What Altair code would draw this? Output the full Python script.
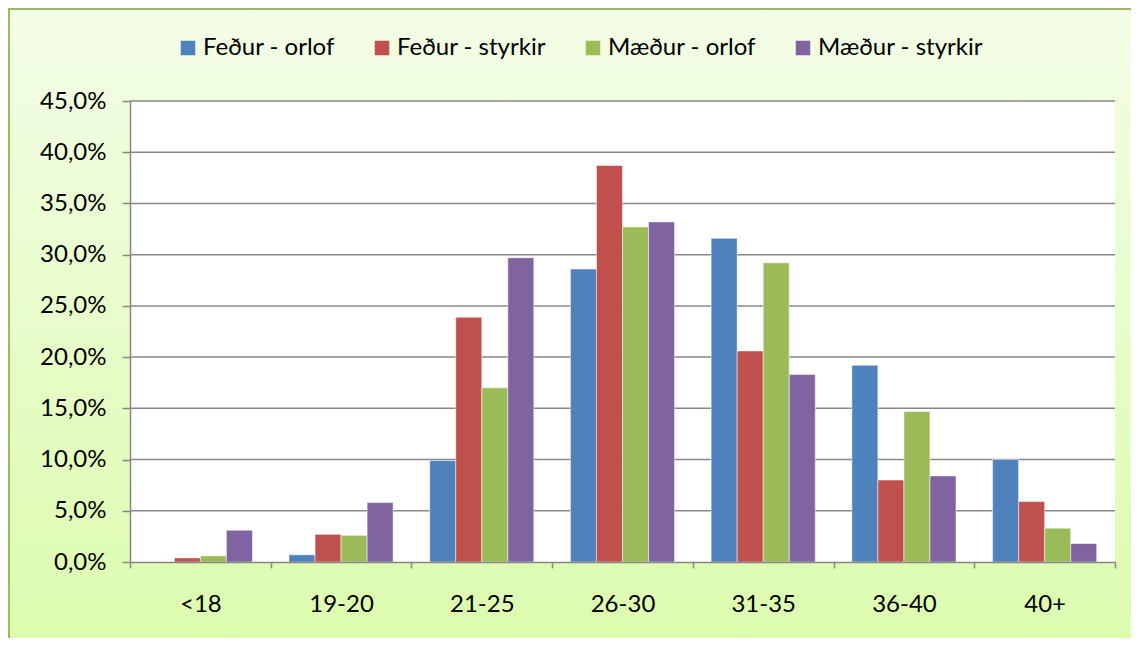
import altair as alt
import pandas as pd

categories = ["<18", "19-20", "21-25", "26-30", "31-35", "36-40", "40+"]
series = ["Feður - orlof", "Feður - styrkir", "Mæður - orlof", "Mæður - styrkir"]
fedur_orlof = [0.0, 0.7, 9.9, 28.6, 31.6, 19.2, 10.0]
fedur_styrkir = [0.4, 2.7, 23.9, 38.7, 20.6, 8.0, 5.9]
maedur_orlof = [0.6, 2.6, 17.0, 32.7, 29.2, 14.7, 3.3]
maedur_styrkir = [3.1, 5.8, 29.7, 33.2, 18.3, 8.4, 1.8]
y_ticks = [0, 5, 10, 15, 20, 25, 30, 35, 40, 45]
colors = ["#4f81bd", "#c0504d", "#9bbb59", "#8064a2"]

W, H = 985, 461
PL, PT, PR, PB = 122, 93, 16, 76
FONT = "Lato"

rows = []
for s, vals in zip(series, [fedur_orlof, fedur_styrkir, maedur_orlof, maedur_styrkir]):
    for c, v in zip(categories, vals):
        rows.append({"cat": c, "series": s, "val": v})
df = pd.DataFrame(rows)
grid_df = pd.DataFrame({"v": y_ticks[1:]})
one = pd.DataFrame({"a": [0]})

yscale = alt.Scale(domain=[0, 45], nice=False)
yaxis = alt.Axis(title=None, values=y_ticks, grid=False,
                 labelExpr="replace(format(datum.value, '.1f'), '.', ',') + '%'",
                 tickSize=8, tickWidth=1.5, tickColor="#868686",
                 domainColor="#868686", domainWidth=1.5,
                 labelFont=FONT, labelFontSize=24, labelColor="black",
                 labelPadding=16, zindex=1)

bg = alt.Chart(one).mark_rect(
    fill={"gradient": "linear", "x1": 0, "y1": 0, "x2": 0, "y2": 1,
          "stops": [{"offset": 0, "color": "#f3fde7"}, {"offset": 1, "color": "#dbfcab"}]},
    stroke="#9bbb59", strokeWidth=2
).encode(x=alt.value(-PL + 1), x2=alt.value(W + PR + 30),
         y=alt.value(-PT + 1), y2=alt.value(H + PB + 30))

plotbg = alt.Chart(one).mark_rect(fill="white").encode(
    x=alt.value(0), x2=alt.value(W), y=alt.value(0), y2=alt.value(H))

grid = alt.Chart(grid_df).mark_rule(color="#878787", strokeWidth=1.5).encode(
    y=alt.Y("v:Q", scale=yscale, axis=yaxis))

bars = alt.Chart(df).mark_bar(stroke="white", strokeOpacity=0.5, strokeWidth=1).encode(
    x=alt.X("cat:N", sort=categories,
            scale=alt.Scale(paddingInner=0, paddingOuter=0),
            axis=alt.Axis(title=None, labelAngle=0, tickBand="extent", tickSize=6,
                          tickWidth=1.5, tickColor="#868686", domainColor="#868686",
                          domainWidth=1.5, labelFont=FONT, labelFontSize=24,
                          labelColor="black", labelPadding=24, zindex=1)),
    xOffset=alt.XOffset("series:N", sort=series,
                        scale=alt.Scale(paddingInner=0, paddingOuter=0.703)),
    y=alt.Y("val:Q", scale=yscale, axis=yaxis),
    color=alt.Color("series:N", sort=series,
                    scale=alt.Scale(domain=series, range=colors),
                    legend=alt.Legend(orient="none", legendX=46, legendY=-65,
                                      direction="horizontal", title=None,
                                      symbolType="square", symbolSize=210,
                                      symbolStrokeWidth=0, labelFont=FONT,
                                      labelFontSize=24, labelColor="black",
                                      labelOffset=3, columnPadding=35,
                                      labelLimit=400)),
)

chart = alt.layer(bg, plotbg, grid, bars).properties(
    width=W, height=H, autosize="none",
    padding={"left": PL, "top": PT, "right": PR, "bottom": PB},
).configure_view(strokeWidth=0)

chart.save("out.html", embed_options={"renderer": "svg", "actions": False})
